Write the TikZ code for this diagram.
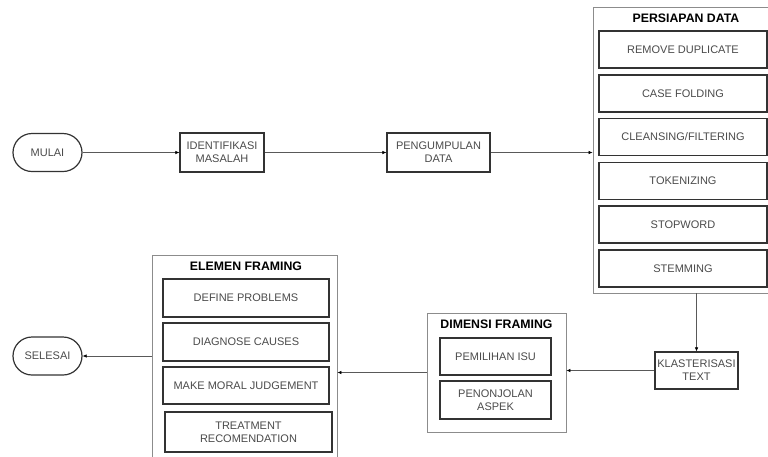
\documentclass[tikz,border=0pt]{standalone}
\usepackage{fontspec}
\setmainfont{Liberation Sans}
\usetikzlibrary{arrows.meta}
\definecolor{boxline}{HTML}{333333}
\definecolor{groupline}{HTML}{8C8C8C}
\definecolor{boxtext}{HTML}{4A4A4A}
\tikzset{
	stepbox/.style={draw=boxline, line width=1.2pt, text=boxtext, align=center, inner sep=0pt, font=\fontsize{11}{13}\selectfont},
	terminal/.style={stepbox, rounded corners=19pt, minimum width=69pt, minimum height=38pt},
	groupbox/.style={draw=groupline, line width=0.8pt, inner sep=0pt},
	grouptitle/.style={font=\bfseries\fontsize{12.3}{14}\selectfont, inner sep=0pt},
	flow/.style={draw=black!65, line width=0.6pt, -{Latex[length=4pt,width=3.5pt,black]}}
}

\begin{document}
\begin{tikzpicture}[x=1pt,y=-1pt]
	\useasboundingbox (0,0) rectangle (768,456);

	\node[terminal] (Mulai) at (47.5,152.5) {MULAI};
	\node[stepbox, minimum width=84pt, minimum height=39pt] (Identifikasi) at (222,152.5) {IDENTIFIKASI\\MASALAH};
	\node[stepbox, minimum width=103pt, minimum height=39pt] (Pengumpulan) at (438.5,152.5) {PENGUMPULAN\\DATA};

	% persiapan data
	\node[groupbox, minimum width=177pt, minimum height=286pt] (Persiapan) at (681.5,150) {};
	\node[grouptitle] (PersiapanTitle) at (686,18) {PERSIAPAN DATA};
	\node[stepbox, minimum width=168pt, minimum height=37pt] (Remove) at (683,49.5) {REMOVE DUPLICATE};
	\node[stepbox, minimum width=168pt, minimum height=37pt] (Casefolding) at (683,93.5) {CASE FOLDING};
	\node[stepbox, minimum width=168pt, minimum height=37pt] (Cleansing) at (683,137) {CLEANSING/FILTERING};
	\node[stepbox, minimum width=168pt, minimum height=37pt] (Tokenizing) at (683,181) {TOKENIZING};
	\node[stepbox, minimum width=168pt, minimum height=37pt] (Stopword) at (683,224.5) {STOPWORD};
	\node[stepbox, minimum width=168pt, minimum height=37pt] (Stemming) at (683,268.5) {STEMMING};

	\node[stepbox, minimum width=83pt, minimum height=37pt] (Klasterisasi) at (696.5,370.5) {KLASTERISASI\\TEXT};

	% dimensi framing
	\node[groupbox, minimum width=139pt, minimum height=119pt] (Dimensi) at (496.5,372.5) {};
	\node[grouptitle] (DimensiTitle) at (496.5,324) {DIMENSI FRAMING};
	\node[stepbox, minimum width=111pt, minimum height=37pt] (Pemilihan) at (495.5,356.5) {PEMILIHAN ISU};
	\node[stepbox, minimum width=111pt, minimum height=38pt] (Penonjolan) at (495.5,400) {PENONJOLAN\\ASPEK};

	% elemen framing
	\node[groupbox, minimum width=185pt, minimum height=207pt] (Elemen) at (244.5,358.5) {};
	\node[grouptitle] (ElemenTitle) at (246,266) {ELEMEN FRAMING};
	\node[stepbox, minimum width=166pt, minimum height=38pt] (Define) at (246,298) {DEFINE PROBLEMS};
	\node[stepbox, minimum width=166pt, minimum height=38pt] (Diagnose) at (246,342) {DIAGNOSE CAUSES};
	\node[stepbox, minimum width=166pt, minimum height=37pt] (Moral) at (246,385.5) {MAKE MORAL JUDGEMENT};
	\node[stepbox, minimum width=167pt, minimum height=40pt] (Treatment) at (248.5,432) {TREATMENT\\RECOMENDATION};

	\node[terminal] (Selesai) at (47.5,356) {SELESAI};

	\draw[flow] (Mulai) to (Identifikasi);
	\draw[flow] (Identifikasi) to (Pengumpulan);
	\draw[flow] (Pengumpulan) to (Pengumpulan -| Persiapan.west);
	\draw[flow] (Persiapan.south -| Klasterisasi) to (Klasterisasi);
	\draw[flow] (Klasterisasi) to (Klasterisasi -| Dimensi.east);
	\draw[flow] (Dimensi.west) to (Dimensi.west -| Elemen.east);
	\draw[flow] (Elemen.west |- Selesai) to (Selesai);
\end{tikzpicture}
\end{document}
